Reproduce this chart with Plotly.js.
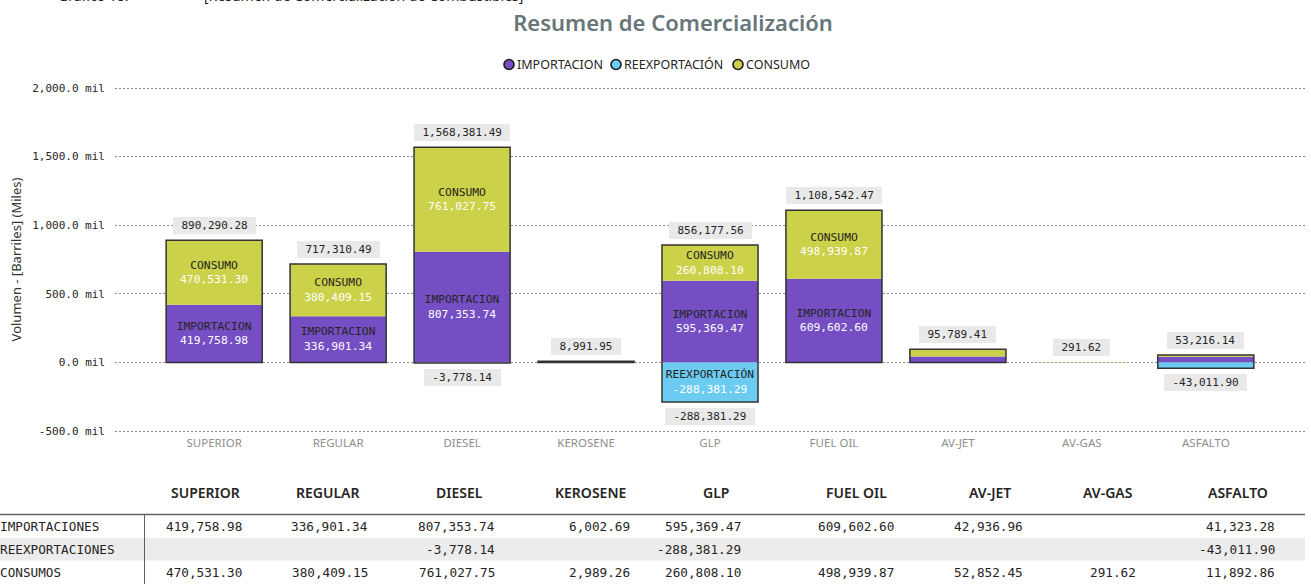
<!DOCTYPE html>
<html>
<head>
<meta charset="utf-8">
<script src="https://cdn.plot.ly/plotly-3.0.1.min.js"></script>
<style>
  html, body { margin: 0; padding: 0; background: #fff; }
  #chart { width: 1311px; height: 584px; }
</style>
</head>
<body>
<div id="chart"></div>
<script>
// ---------------- DATA ----------------
const categories = ['SUPERIOR', 'REGULAR', 'DIESEL', 'KEROSENE', 'GLP', 'FUEL OIL', 'AV-JET', 'AV-GAS', 'ASFALTO'];
const importacion = [419758.98, 336901.34, 807353.74, 6002.69, 595369.47, 609602.60, 42936.96, null, 41323.28];
const reexportacion = [null, null, -3778.14, null, -288381.29, null, null, null, -43011.90];
const consumo = [470531.30, 380409.15, 761027.75, 2989.26, 260808.10, 498939.87, 52852.45, 291.62, 11892.86];
const totalPositivo = [890290.28, 717310.49, 1568381.49, 8991.95, 856177.56, 1108542.47, 95789.41, 291.62, 53216.14];
const seriesNames = ['IMPORTACION', 'REEXPORTACIÓN', 'CONSUMO'];
const tableRowLabels = ['IMPORTACIONES', 'REEXPORTACIONES', 'CONSUMOS'];
const yTickValues = [-500000, 0, 500000, 1000000, 1500000, 2000000];

// ---------------- STYLE / LAYOUT HELPERS ----------------
const colors = ['#744EC2', '#6BCBF0', '#CBD148'];
const MONO = 'DejaVu Sans Mono, monospace';
const SANS = 'Noto Sans, Open Sans, sans-serif';
// plot area in pixels (a bit larger than the -500..2000 span so edge gridlines are drawn)
const PL = 115, PR = 1305, PT = 85, PB = 434;
const SCALE = 343 / 2500000;                  // px per unit (2000 mil at y=88, -500 mil at y=431)
const PAD = ((PB - PT) / SCALE - 2500000) / 2;
const PX = px => (px - PL) / (PR - PL);
const PY = py => (PB - py) / (PB - PT);
const fmt = v => v.toLocaleString('en-US', {minimumFractionDigits: 2, maximumFractionDigits: 2});
const LABEL_MIN = 150000;

function segText(vals, name) {
  return vals.map(v => (v !== null && Math.abs(v) >= LABEL_MIN)
    ? `<span style="color:#252525">${name}</span><br><span style="color:#ffffff">${fmt(v)}</span>` : '');
}

const seriesData = [importacion, reexportacion, consumo];
const traces = seriesData.map((vals, i) => ({
  type: 'bar',
  name: seriesNames[i],
  x: categories,
  y: vals,
  marker: {color: colors[i], line: {width: 0}},
  text: segText(vals, seriesNames[i]),
  textposition: 'inside',
  insidetextanchor: 'middle',
  constraintext: 'none',
  textangle: 0,
  insidetextfont: {family: MONO, size: 11.3, color: '#ffffff'},
  hoverinfo: 'x+y+name',
  showlegend: false
}));

// outline of each whole stacked bar (overlay axes, same scales)
const negTotals = reexportacion.map(v => v === null ? 0 : v);
traces.push({
  type: 'bar',
  x: categories,
  base: negTotals,
  y: totalPositivo.map((t, i) => t - negTotals[i]),
  xaxis: 'x2', yaxis: 'y2',
  marker: {color: 'rgba(0,0,0,0)', line: {color: '#333333', width: totalPositivo.map((t, i) => (t - negTotals[i]) < 1000 ? 0 : 1.5)}},
  hoverinfo: 'skip',
  showlegend: false
});

const annotations = [];
const shapes = [];
// total labels
categories.forEach((c, i) => {
  const t = fmt(totalPositivo[i]);
  annotations.push({
    x: c, y: totalPositivo[i], xref: 'x', yref: 'y', showarrow: false,
    yanchor: 'bottom', yshift: 6, text: t, width: 6.62 * t.length + 13,
    bgcolor: '#E9E9E9', borderpad: 2, borderwidth: 0,
    font: {family: MONO, size: 11, color: '#252525'}
  });
  if (reexportacion[i] !== null) {
    const tn = fmt(reexportacion[i]);
    annotations.push({
      x: c, y: reexportacion[i], xref: 'x', yref: 'y', showarrow: false,
      yanchor: 'top', yshift: -6, text: tn, width: 6.62 * tn.length + 13,
      bgcolor: '#E9E9E9', borderpad: 2, borderwidth: 0,
      font: {family: MONO, size: 11, color: '#252525'}
    });
  }
});

// legend (circle marker + label, tight spacing)
const legendCircleX = [509, 616, 738];
seriesNames.forEach((n, i) => {
  shapes.push({type: 'circle', xref: 'paper', yref: 'paper', xsizemode: 'pixel', ysizemode: 'pixel',
    xanchor: PX(legendCircleX[i]), yanchor: PY(64.5), x0: -5, x1: 5, y0: -5, y1: 5,
    fillcolor: colors[i], line: {color: '#1a1a1a', width: 1.6}});
  annotations.push({xref: 'paper', yref: 'paper', x: PX(legendCircleX[i] + 6.5), y: PY(64.5), xanchor: 'left', yanchor: 'middle',
    showarrow: false, text: n, font: {family: SANS, size: 12.5, color: '#252423'}, borderpad: 0});
});

// page caption (cut off at top, as in the page)
annotations.push({xref: 'paper', yref: 'paper', x: PX(57), y: PY(6.5), xanchor: 'left', yanchor: 'bottom',
  showarrow: false, text: 'Gráfico 18:', font: {family: SANS, size: 14, color: '#222'}, borderpad: 0});
annotations.push({xref: 'paper', yref: 'paper', x: PX(203), y: PY(6.5), xanchor: 'left', yanchor: 'bottom',
  showarrow: false, text: '[Resumen de Comercialización de Combustibles]', font: {family: SANS, size: 14, color: '#222'}, borderpad: 0});

// ---------------- TABLE ----------------
const colCenters = [205, 328, 459, 590, 716, 856, 990, 1108, 1238];
const colRights = [244, 370, 497, 632, 743, 896, 1025, 1138, 1277];
const rowYs = [526, 549, 572];
categories.forEach((c, j) => {
  annotations.push({xref: 'paper', yref: 'paper', x: PX(colCenters[j]), y: PY(493), xanchor: 'center', yanchor: 'middle',
    showarrow: false, text: c, font: {family: SANS, size: 14, color: '#252423', weight: 600}});
});
const tableRows = [importacion, reexportacion, consumo];
tableRows.forEach((row, r) => {
  annotations.push({xref: 'paper', yref: 'paper', x: PX(-2), y: PY(rowYs[r]), xanchor: 'left', yanchor: 'middle',
    showarrow: false, text: tableRowLabels[r], font: {family: MONO, size: 12.7, color: '#252423'}});
  row.forEach((v, j) => {
    if (v === null) return;
    annotations.push({xref: 'paper', yref: 'paper', x: PX(colRights[j]), y: PY(rowYs[r]), xanchor: 'right', yanchor: 'middle',
      showarrow: false, text: fmt(v), font: {family: MONO, size: 12.7, color: '#252423'}});
  });
});

shapes.push(
  {type: 'rect', xref: 'paper', yref: 'paper', x0: PX(0), x1: PX(1305), y0: PY(538), y1: PY(560.5),
    fillcolor: '#ECECEC', line: {width: 0}, layer: 'below'},
  {type: 'line', xref: 'paper', yref: 'paper', x0: PX(0), x1: PX(1305), y0: PY(514.5), y1: PY(514.5),
    line: {color: '#606060', width: 1.5}},
  {type: 'line', xref: 'paper', yref: 'paper', x0: PX(144.5), x1: PX(144.5), y0: PY(515), y1: PY(590),
    line: {color: '#606060', width: 1}}
);

const layout = {
  width: 1311, height: 584,
  margin: {l: PL, r: 1311 - PR, t: PT, b: 584 - PB, pad: 0},
  paper_bgcolor: '#ffffff', plot_bgcolor: '#ffffff',
  barmode: 'relative', bargap: 0.225,
  font: {family: SANS, color: '#333'},
  title: {text: 'Resumen de Comercialización', x: 673 / 1311, xref: 'container', xanchor: 'center',
    y: 1 - 23 / 584, yref: 'container', yanchor: 'middle',
    font: {family: SANS, size: 22, color: '#677679', weight: 600}},
  showlegend: false,
  xaxis: {type: 'category', range: [-0.8, 8.8], showgrid: false, zeroline: false, showline: false, ticks: '',
    tickfont: {family: SANS, size: 11.5, color: '#8E8E8E'}, fixedrange: true},
  yaxis: {range: [-500000 - PAD, 2000000 + PAD], tickvals: yTickValues,
    ticktext: yTickValues.map(v => (v / 1000).toLocaleString('en-US', {minimumFractionDigits: 1, maximumFractionDigits: 1}) + ' mil'),
    showgrid: true, gridcolor: '#8A8A8A', gridwidth: 1, griddash: '1.5px,2.5px',
    zeroline: false, showline: false, ticks: '', ticklabelstandoff: 9,
    tickfont: {family: MONO, size: 11, color: '#252525'},
    title: {text: 'Volumen - [Barriles] (Miles)', standoff: 7, font: {family: SANS, size: 13, color: '#333'}},
    fixedrange: true},
  xaxis2: {overlaying: 'x', matches: 'x', visible: false},
  yaxis2: {overlaying: 'y', matches: 'y', visible: false},
  annotations: annotations,
  shapes: shapes
};

Plotly.newPlot('chart', traces, layout, {displayModeBar: false, staticPlot: true});
</script>
</body>
</html>
